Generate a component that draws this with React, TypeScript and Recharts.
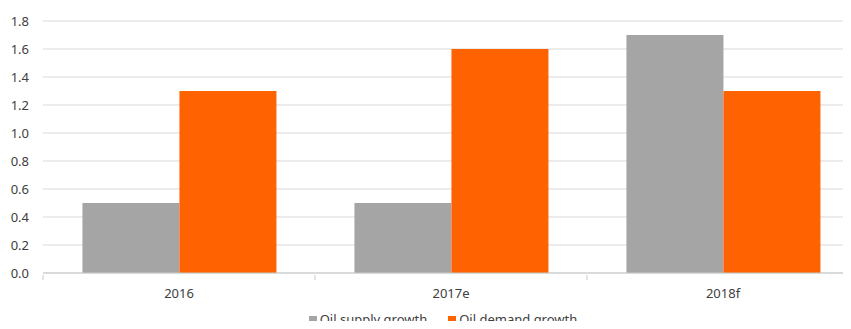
import React from "react"
import { BarChart, Bar, XAxis, YAxis, CartesianGrid, Legend } from "recharts"

const categories = ["2016", "2017e", "2018f"]
const supplyGrowth = [0.5, 0.5, 1.7]
const demandGrowth = [1.3, 1.6, 1.3]
const yTicks = [0, 0.2, 0.4, 0.6, 0.8, 1.0, 1.2, 1.4, 1.6, 1.8]
const seriesNames = ["Oil supply growth", "Oil demand growth"]
const seriesColors = ["#a5a5a5", "#ff6200"]

const data = categories.map((c, i) => ({
  name: c,
  supply: supplyGrowth[i],
  demand: demandGrowth[i],
}))

const FONT = "'Noto Sans', 'Open Sans', sans-serif"
const TEXT = "#404040"

function CategoryTick(props: any) {
  const { x, y, payload, index, visibleTicksCount } = props
  const off = payload.offset || 0
  const last = index === visibleTicksCount - 1
  return (
    <g>
      <line x1={x - off} x2={x - off} y1={y} y2={y + 5} stroke="#c8c8c8" />
      {last && <line x1={x + off} x2={x + off} y1={y} y2={y + 5} stroke="#c8c8c8" />}
      <text x={x} y={y + 23} textAnchor="middle" fill={TEXT} fontSize={13} fontFamily={FONT}>
        {payload.value}
      </text>
    </g>
  )
}

function LegendContent() {
  return (
    <div style={{ display: "flex", justifyContent: "center", lineHeight: "16px", fontFamily: FONT, fontSize: 13, color: TEXT }}>
      {seriesNames.map((n, i) => (
        <div key={n} style={{ display: "flex", alignItems: "center", marginRight: i === 0 ? 21 : 0 }}>
          <span style={{ display: "inline-block", width: 8, height: 8, background: seriesColors[i], marginRight: 3, marginTop: 2 }} />
          <span>{n}</span>
        </div>
      ))}
    </div>
  )
}

export default function App() {
  return (
    <div style={{ margin: -8, width: 851, height: 329, overflow: "hidden", background: "#fff" }}>
      <div style={{ width: 870, height: 329 }}>
        <BarChart
          width={870}
          height={329}
          data={data}
          margin={{ top: 21, right: 11, left: 0, bottom: 0 }}
          barCategoryGap="14.5%"
          barGap={0}
        >
          <CartesianGrid vertical={false} stroke="#d9d9d9" />
          <XAxis
            dataKey="name"
            height={30}
            tickSize={0}
            tickLine={false}
            axisLine={{ stroke: "#c8c8c8" }}
            tick={<CategoryTick />}
            interval={0}
          />
          <YAxis
            width={43}
            domain={[0, 1.8]}
            ticks={yTicks}
            tickFormatter={(v: number) => v.toFixed(1)}
            axisLine={false}
            tickLine={false}
            tickSize={0}
            tickMargin={14}
            tick={{ fill: TEXT, fontSize: 13, fontFamily: FONT }}
          />
          <Legend
            verticalAlign="bottom"
            height={26}
            content={<LegendContent />}
            wrapperStyle={{ top: 311, left: 0, width: 886 }}
          />
          <Bar dataKey="supply" name={seriesNames[0]} fill={seriesColors[0]} isAnimationActive={false} />
          <Bar dataKey="demand" name={seriesNames[1]} fill={seriesColors[1]} isAnimationActive={false} />
        </BarChart>
      </div>
    </div>
  )
}
